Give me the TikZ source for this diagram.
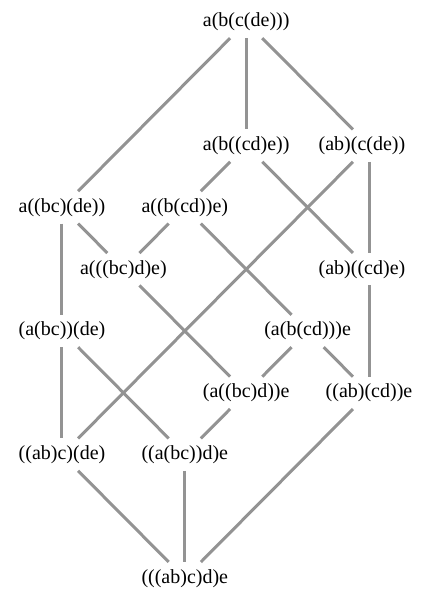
\documentclass[tikz,border=0pt]{standalone}
\usepackage{fontspec}
\setmainfont{Liberation Serif}

\begin{document}
\begin{tikzpicture}[x=61.4pt, y=-61.8pt,
    every node/.style={minimum height=32pt, inner sep=0pt, font=\fontsize{20}{24}\selectfont},
    link/.style={draw=gray!85, line width=3pt}]
    \useasboundingbox (-62pt,22pt) rectangle (368pt,-577pt);
    % top
    \node (t) at (3,0) {a(b(c(de)))};
    % middle rows
    \node (bcde) at (3,2) {a(b((cd)e))};
    \node (abcde) at (5,2) {\hspace*{-14pt}(ab)(c(de))};
    \node (abcdex) at (0,3) {a((bc)(de))};
    \node (bcd) at (2,3) {a((b(cd))e)};
    \node (bcdx) at (1,4) {a(((bc)d)e)};
    \node (abcd) at (5,4) {\hspace*{-14pt}(ab)((cd)e)};
    \node (abcx) at (0,5) {(a(bc))(de)};
    \node (abcdy) at (4,5) {(a(b(cd)))e};
    \node (abcdz) at (3,6) {(a((bc)d))e};
    \node (ababcd) at (5,6) {((ab)(cd))e};
    \node (abc) at (0,7) {((ab)c)(de)};
    \node (abcy) at (2,7) {((a(bc))d)e};
    % bottom
    \node (b) at (2,9) {(((ab)c)d)e};
    \foreach \u/\v in {t/abcdex, t/bcde, t/abcde, bcde/bcd, bcde/abcd,
        abcde/abc, abcde/abcd, abcdex/abcx, abcdex/bcdx, bcd/bcdx, bcd/abcdy,
        bcdx/abcdz, abcd/ababcd, abcx/abc, abcx/abcy, abcdy/abcdz, abcdy/ababcd,
        abcdz/abcy, ababcd/b, abc/b, abcy/b}
        \draw[link] (\u) -- (\v);
\end{tikzpicture}
\end{document}
